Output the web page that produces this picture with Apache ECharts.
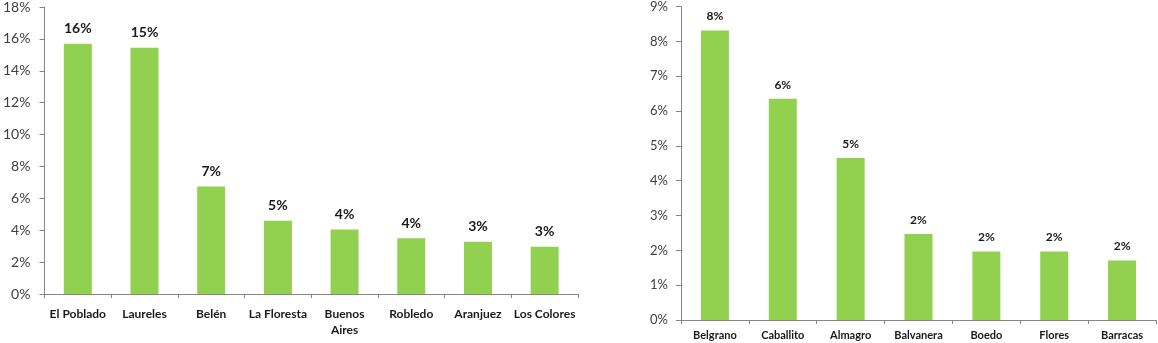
<!DOCTYPE html>
<html>
<head>
<meta charset="utf-8">
<script src="https://cdn.jsdelivr.net/npm/echarts@6/dist/echarts.min.js"></script>
<style>
html,body{margin:0;padding:0;background:#fff;}
#charts{width:1158px;height:343px;}
</style>
</head>
<body>
<div id="charts"></div>
<script>
// comunas de Medellín
var comunas = ['El Poblado', 'Laureles', 'Belén', 'La Floresta', 'Buenos\nAires', 'Robledo', 'Aranjuez', 'Los Colores'];
var comunasValores = [15.7, 15.45, 6.75, 4.6, 4.05, 3.5, 3.27, 2.96];
var comunasTicks = [0, 2, 4, 6, 8, 10, 12, 14, 16, 18];

// barrios de Buenos Aires
var barrios = ['Belgrano', 'Caballito', 'Almagro', 'Balvanera', 'Boedo', 'Flores', 'Barracas'];
var barriosValores = [8.31, 6.35, 4.65, 2.47, 1.97, 1.97, 1.71];
var barriosTicks = [0, 1, 2, 3, 4, 5, 6, 7, 8, 9];

var fuente = 'Lato, "Open Sans", sans-serif';
var verde = '#92D050';
var gris = '#868686';

var yesCharts = echarts.init(document.getElementById('charts'));  //初始化

function ejeX(idx, datos, tamano, margen){
	return {
		type: 'category',
		gridIndex: idx,
		data: datos,
		axisLine: {lineStyle: {color: gris, width: 1}},
		axisTick: {show: true, length: 4, lineStyle: {color: gris}},
		axisLabel: {
			color: '#1a1a1a',
			fontWeight: 'bold',
			fontFamily: fuente,
			fontSize: tamano,
			margin: margen,
			lineHeight: tamano + 4,
			interval: 0
		}
	};
}

function ejeY(idx, ticks, tamano, margen){
	return {
		type: 'value',
		gridIndex: idx,
		min: ticks[0],
		max: ticks[ticks.length - 1],
		interval: ticks[1] - ticks[0],
		splitLine: {show: false},
		axisLine: {show: true, lineStyle: {color: gris, width: 1}},
		axisTick: {show: true, length: 5, lineStyle: {color: gris}},
		axisLabel: {
			color: '#404040',
			fontFamily: fuente,
			fontSize: tamano,
			margin: margen,
			formatter: '{value}%'
		}
	};
}

function serie(idx, valores, tamano){
	return {
		type: 'bar',
		xAxisIndex: idx,
		yAxisIndex: idx,
		barWidth: 28,
		itemStyle: {color: verde},
		label: {
			show: true,
			position: 'top',
			distance: 8,
			color: '#1a1a1a',
			fontWeight: 'bold',
			fontFamily: fuente,
			fontSize: tamano,
			formatter: function(p){ return Math.round(p.value) + '%'; }
		},
		data: valores
	};
}

var option = {
	animation: false,
	backgroundColor: '#fff',
	grid: [
		{left: 43, right: 580, top: 6, bottom: 49},
		{left: 681, right: 2, top: 5, bottom: 21}
	],
	xAxis: [ejeX(0, comunas, 12, 12), ejeX(1, barrios, 11, 8)],
	yAxis: [ejeY(0, comunasTicks, 14, 14), ejeY(1, barriosTicks, 13, 13)],
	series: [serie(0, comunasValores, 14), serie(1, barriosValores, 12)]
};
yesCharts.setOption(option);
</script>
</body>
</html>
